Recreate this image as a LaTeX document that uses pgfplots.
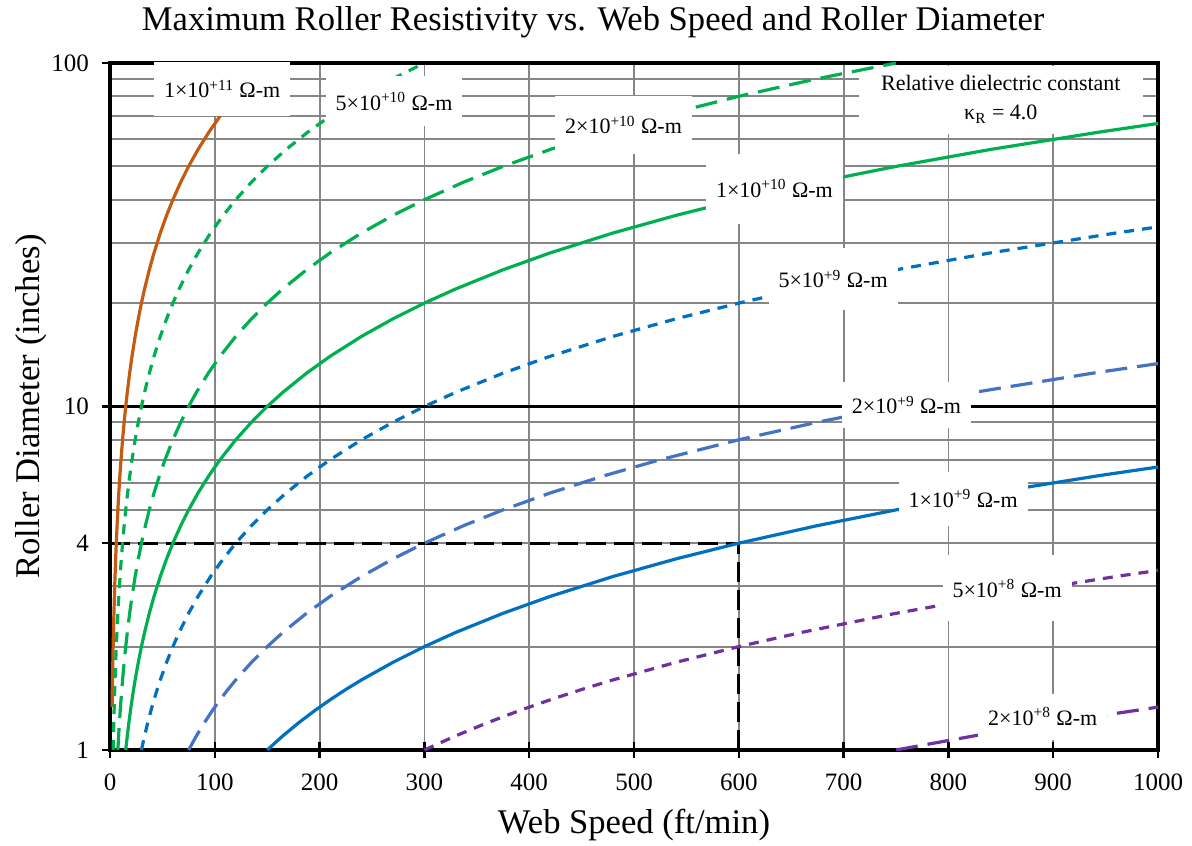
\documentclass[border=0pt]{standalone}
\usepackage{pgfplots}
\pgfplotsset{compat=1.18}
\usepackage{fontspec}
\setmainfont{Liberation Serif}
\definecolor{corange}{HTML}{C55A11}
\definecolor{cgreen}{HTML}{00B050}
\definecolor{cblue}{HTML}{0070C0}
\definecolor{cblueb}{HTML}{4472C4}
\definecolor{cpurple}{HTML}{7030A0}
\definecolor{cgrid}{HTML}{868686}
\tikzset{
  sdash/.style={dash pattern=on 5pt off 4pt},
  ldash/.style={dash pattern=on 11pt off 5pt},
  lbl/.style={fill=white, inner xsep=5pt, inner ysep=5pt, font=\fontsize{11}{13}\selectfont},
}
\begin{document}
\begin{tikzpicture}
\useasboundingbox (-55pt,-47.5pt) rectangle (541pt,375pt);
\begin{axis}[
  at={(0,0)}, anchor=south west,
  scale only axis, width=524pt, height=343.5pt,
  xmin=0, xmax=1000, ymin=1, ymax=100,
  ymode=log,
  xtick={0,100,...,1000},
  ytick={1,4,10,100}, yticklabels={1,4,10,100},
  minor ytick={2,3,5,6,7,8,9,20,30,40,50,60,70,80,90},
  xtick pos=bottom, ytick pos=left,
  tick align=center,
  major tick length=8pt, minor tick length=0pt,
  every tick/.style={black, line width=1.2pt},
  xmajorgrids, ymajorgrids, yminorgrids,
  grid style={cgrid, line width=0.9pt},
  major grid style={cgrid, line width=0.9pt},
  minor grid style={cgrid, line width=0.9pt},
  axis line style={black, line width=1.6pt},
  /pgf/number format/assume math mode=true,
  /pgf/number format/1000 sep={},
  tick label style={font=\fontsize{12.5}{14}\selectfont},
  xticklabel style={yshift=-4.5pt},
  yticklabel style={xshift=-3pt},
  xlabel={Web Speed (ft/min)},
  ylabel={Roller Diameter (inches)},
  label style={font=\fontsize{17.3}{20}\selectfont},
  xlabel style={at={(0.5,0)}, anchor=base, yshift=-41.5pt},
  ylabel style={at={(0,0.5)}, anchor=base, yshift=35pt},
  title={Maximum Roller Resistivity vs. Web Speed and Roller Diameter},
  title style={font=\fontsize{17.3}{20}\selectfont, at={(0.461,1)}, anchor=base, yshift=10pt},
  clip=true,
  every axis plot/.append style={line join=round},
]
% black line at 10
\addplot[black, line width=1.1pt] coordinates {(0,10) (1000,10)};
% dielectric note box (beneath the curves)
\node[lbl, align=center, inner xsep=11pt, inner ysep=3pt, minimum height=34pt, font=\fontsize{11}{14.5}\selectfont] at (axis cs:850,78.3) {Relative dielectric constant\\κ\textsubscript{R} = 4.0};
% reference dashed lines
\addplot[black, line width=1.6pt, dash pattern=on 10pt off 4pt] coordinates {(0,4) (600,4)};
\addplot[black, line width=1.6pt, dash pattern=on 10pt off 4pt] coordinates {(600,1) (600,4)};

% 1e11
\addplot[corange, line width=1.6pt] coordinates {(2,1.3333) (2.1,1.4) (2.25,1.5) (2.4,1.6) (2.7,1.8) (3,2) (3.3,2.2) (3.75,2.5) (4.2,2.8) (4.8,3.2) (5.4,3.6) (6,4) (6.75,4.5) (7.5,5) (8.4,5.6) (9.45,6.3) (10.5,7) (12,8) (13.5,9) (15,10) (16.5,11) (18.75,12.5) (21,14) (24,16) (27,18) (30,20) (33,22) (37.5,25) (42,28) (48,32) (54,36) (60,40) (67.5,45) (75,50) (84,56) (94.5,63) (105,70) (120,80) (135,90) (150,100)};
% 5e10
\addplot[cgreen, line width=1.6pt, sdash] coordinates {(3,1) (3.3,1.1) (3.6,1.2) (3.9,1.3) (4.2,1.4) (4.5,1.5) (4.8,1.6) (5.4,1.8) (6,2) (6.6,2.2) (7.5,2.5) (8.4,2.8) (9.6,3.2) (10.8,3.6) (12,4) (13.5,4.5) (15,5) (16.8,5.6) (18.9,6.3) (21,7) (24,8) (27,9) (30,10) (33,11) (37.5,12.5) (42,14) (48,16) (54,18) (60,20) (66,22) (75,25) (84,28) (96,32) (108,36) (120,40) (135,45) (150,50) (168,56) (189,63) (210,70) (240,80) (270,90) (300,100)};
% 2e10
\addplot[cgreen, line width=1.6pt, ldash] coordinates {(7.5,1) (8.25,1.1) (9,1.2) (9.75,1.3) (10.5,1.4) (11.25,1.5) (12,1.6) (13.5,1.8) (15,2) (16.5,2.2) (18.75,2.5) (21,2.8) (24,3.2) (27,3.6) (30,4) (33.75,4.5) (37.5,5) (42,5.6) (47.25,6.3) (52.5,7) (60,8) (67.5,9) (75,10) (82.5,11) (93.75,12.5) (105,14) (120,16) (135,18) (150,20) (165,22) (187.5,25) (210,28) (240,32) (270,36) (300,40) (337.5,45) (375,50) (420,56) (472.5,63) (525,70) (600,80) (675,90) (750,100)};
% 1e10
\addplot[cgreen, line width=1.6pt] coordinates {(15,1) (16.5,1.1) (18,1.2) (19.5,1.3) (21,1.4) (22.5,1.5) (24,1.6) (27,1.8) (30,2) (33,2.2) (37.5,2.5) (42,2.8) (48,3.2) (54,3.6) (60,4) (67.5,4.5) (75,5) (84,5.6) (94.5,6.3) (105,7) (120,8) (135,9) (150,10) (165,11) (187.5,12.5) (210,14) (240,16) (270,18) (300,20) (330,22) (375,25) (420,28) (480,32) (540,36) (600,40) (675,45) (750,50) (840,56) (945,63) (1000,66.667)};
% 5e9
\addplot[cblue, line width=1.6pt, sdash] coordinates {(30,1) (33,1.1) (36,1.2) (39,1.3) (42,1.4) (45,1.5) (48,1.6) (54,1.8) (60,2) (66,2.2) (75,2.5) (84,2.8) (96,3.2) (108,3.6) (120,4) (135,4.5) (150,5) (168,5.6) (189,6.3) (210,7) (240,8) (270,9) (300,10) (330,11) (375,12.5) (420,14) (480,16) (540,18) (600,20) (660,22) (750,25) (840,28) (960,32) (1000,33.333)};
% 2e9
\addplot[cblueb, line width=1.6pt, ldash] coordinates {(75,1) (82.5,1.1) (90,1.2) (97.5,1.3) (105,1.4) (112.5,1.5) (120,1.6) (135,1.8) (150,2) (165,2.2) (187.5,2.5) (210,2.8) (240,3.2) (270,3.6) (300,4) (337.5,4.5) (375,5) (420,5.6) (472.5,6.3) (525,7) (600,8) (675,9) (750,10) (825,11) (937.5,12.5) (1000,13.333)};
% 1e9
\addplot[cblue, line width=1.6pt] coordinates {(150,1) (165,1.1) (180,1.2) (195,1.3) (210,1.4) (225,1.5) (240,1.6) (270,1.8) (300,2) (330,2.2) (375,2.5) (420,2.8) (480,3.2) (540,3.6) (600,4) (675,4.5) (750,5) (840,5.6) (945,6.3) (1000,6.667)};
% 5e8
\addplot[cpurple, line width=1.6pt, sdash] coordinates {(300,1) (330,1.1) (360,1.2) (390,1.3) (420,1.4) (450,1.5) (480,1.6) (540,1.8) (600,2) (660,2.2) (750,2.5) (840,2.8) (960,3.2) (1000,3.333)};
% 2e8
\addplot[cpurple, line width=1.6pt, ldash] coordinates {(750,1) (825,1.1) (900,1.2) (1000,1.333)};

% labels
\node[lbl, inner ysep=9pt] at (axis cs:107,84) {1×10\textsuperscript{+11} Ω-m};
\node[lbl, inner ysep=8pt] at (axis cs:271,77.5) {5×10\textsuperscript{+10} Ω-m};
\node[lbl, inner ysep=10pt] at (axis cs:490,66) {2×10\textsuperscript{+10} Ω-m};
\node[lbl, inner ysep=13pt] at (axis cs:634,43) {1×10\textsuperscript{+10} Ω-m};
\node[lbl, inner ysep=11pt] at (axis cs:690,23.5) {5×10\textsuperscript{+9} Ω-m};
\node[lbl, inner ysep=7pt] at (axis cs:760,10.1) {2×10\textsuperscript{+9} Ω-m};
\node[lbl, inner ysep=9pt] at (axis cs:814,5.38) {1×10\textsuperscript{+9} Ω-m};
\node[lbl, inner ysep=12pt] at (axis cs:856,2.96) {5×10\textsuperscript{+8} Ω-m};
\node[lbl, inner ysep=7pt] at (axis cs:890,1.25) {2×10\textsuperscript{+8} Ω-m};
\end{axis}
\end{tikzpicture}
\end{document}
